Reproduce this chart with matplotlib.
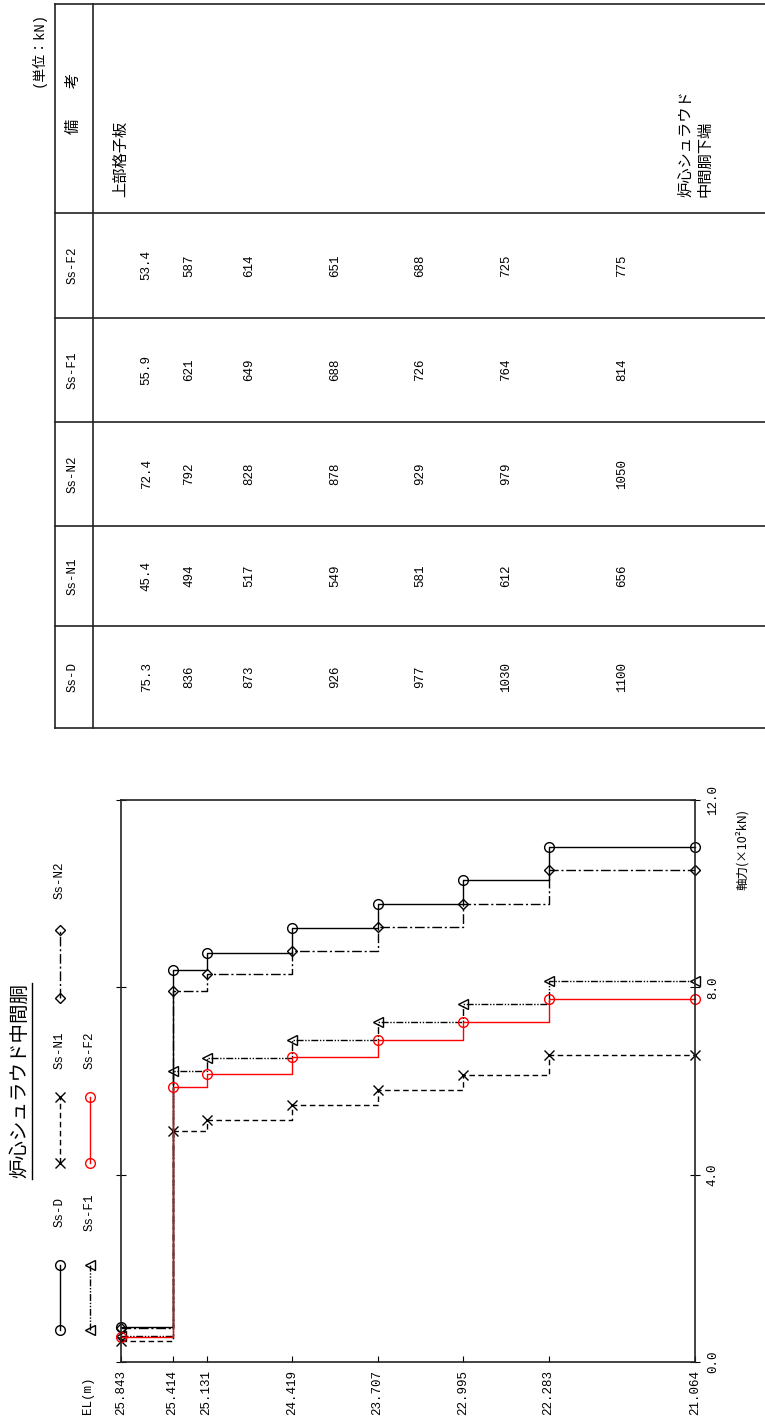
import matplotlib
matplotlib.use('Agg')
import matplotlib.pyplot as plt
from matplotlib.lines import Line2D
from matplotlib.transforms import blended_transform_factory

plt.rcParams['font.family'] = ['Liberation Mono', 'Noto Sans CJK JP']
JP = ['Noto Sans CJK JP', 'Liberation Mono']

# elevation boundaries (m) and axial force per section (kN)
el = [25.843, 25.414, 25.131, 24.419, 23.707, 22.995, 22.283, 21.064]
el_labels = ['25.843', '25.414', '25.131', '24.419', '23.707', '22.995', '22.283', '21.064']
ss_d = [75.3, 836, 873, 926, 977, 1030, 1100]
ss_n1 = [45.4, 494, 517, 549, 581, 612, 656]
ss_n2 = [72.4, 792, 828, 878, 929, 979, 1050]
ss_f1 = [55.9, 621, 649, 688, 726, 764, 814]
ss_f2 = [53.4, 587, 614, 651, 688, 725, 775]
y_ticks = [0, 4, 8, 12]
y_tick_labels = ['0.0', '4.0', '8.0', '12.0']
remarks = [(25.843, '上部格子板'), (21.064, '炉心シュラウド\n中間胴下端')]

series = {
    'Ss-D': (ss_d, dict(color='black', ls='-', marker='o', ms=7, mfc='none')),
    'Ss-N1': (ss_n1, dict(color='black', ls=(0, (4, 2.5)), marker='x', ms=7)),
    'Ss-N2': (ss_n2, dict(color='black', ls=(0, (7, 2, 1.5, 2)), marker='D', ms=5.5, mfc='none')),
    'Ss-F1': (ss_f1, dict(color='black', ls=(0, (5, 1.2, 1, 1.2, 1, 1.2)), marker='<', ms=6.5, mfc='none')),
    'Ss-F2': (ss_f2, dict(color='red', ls='-', marker='o', ms=7, mfc='none')),
}

W, H = 765, 1428
fx = lambda px: px / W
fy = lambda py: 1 - py / H

fig = plt.figure(figsize=(W / 100, H / 100), dpi=100)
ax = fig.add_axes([fx(121), fy(1362), fx(695) - fx(121), fy(800) - fy(1362)])

for name, (vals, st) in series.items():
    y = [v / 100 for v in vals]
    ax.plot(el, y + [y[-1]], drawstyle='steps-post', lw=1.0, clip_on=False, **st)

ax.set_xlim(el[0], el[-1])
ax.set_ylim(0, 12)
ax.set_xticks(el)
ax.set_xticklabels(el_labels, rotation=90, fontsize=9)
ax.set_yticks(y_ticks)
ax.set_yticklabels(y_tick_labels, rotation=90, fontsize=9, va='center')
ax.tick_params(axis='x', direction='in', length=4, width=0.8, pad=6)
ax.tick_params(axis='y', direction='inout', length=7, width=0.8, left=True, right=True,
               labelleft=False, labelright=True, pad=5)
for sp in ax.spines.values():
    sp.set_linewidth(1.2)
    sp.set_color('#222222')

fig.text(fx(88), fy(1376), 'EL(m)', rotation=90, ha='center', va='top', fontsize=9)
fig.text(fx(742), fy(850), '軸力(×10²kN)', rotation=90, ha='center', va='center', fontsize=9, family=JP)

# title with underline
title = fig.text(fx(20), fy(1081), '炉心シュラウド中間胴', rotation=90, ha='center', va='center',
                 fontsize=14, family=JP)
fig.canvas.draw()
bb = title.get_window_extent(fig.canvas.get_renderer())
fig.add_artist(Line2D([(bb.x1 + 1) / W] * 2, [bb.y0 / H, bb.y1 / H], transform=fig.transFigure,
                      color='black', lw=1.0))

# legend drawn by hand (rotated page)
leg_pos = {
    'Ss-D': (60, 1330, 1265, 1212),
    'Ss-N1': (60, 1163, 1097, 1050),
    'Ss-N2': (60, 998, 930, 880),
    'Ss-F1': (90, 1330, 1265, 1212),
    'Ss-F2': (90, 1163, 1097, 1050),
}
for name, (x, y1, y2, yl) in leg_pos.items():
    st = series[name][1]
    fig.add_artist(Line2D([fx(x)] * 2, [fy(y1), fy(y2)], transform=fig.transFigure, lw=1.0, **st))
    fig.text(fx(x), fy(yl), name, rotation=90, ha='center', va='center', fontsize=9)

# table
tr = blended_transform_factory(ax.transData, fig.transFigure)
rows_y = [4, 213, 318, 422, 526, 626, 728]
headers = ['備　　考', 'Ss-F2', 'Ss-F1', 'Ss-N2', 'Ss-N1', 'Ss-D']
for yy in rows_y:
    fig.add_artist(Line2D([fx(55), fx(765)], [fy(yy)] * 2, transform=fig.transFigure,
                          color='#222222', lw=1.2))
for xx in [55, 93]:
    fig.add_artist(Line2D([fx(xx)] * 2, [fy(4), fy(728)], transform=fig.transFigure,
                          color='#222222', lw=1.2))
for i, h in enumerate(headers):
    yc = (rows_y[i] + rows_y[i + 1]) / 2
    fig.text(fx(73), fy(yc - 5 if i == 0 else yc), h, rotation=90, ha='center', va='center',
             fontsize=9 if i else 11, family=JP if i == 0 else None)

for i, name in enumerate(headers[1:], start=1):
    vals = series[name][0]
    yc = (rows_y[i] + rows_y[i + 1]) / 2
    for k, v in enumerate(vals):
        xm = (el[k] + el[k + 1]) / 2
        s = f'{v:.1f}' if v < 100 else f'{v:.0f}'
        ax.text(xm, fy(yc), s, transform=tr, rotation=90, ha='center', va='center', fontsize=9)

for xe, txt in remarks:
    ax.text(xe, fy(197), txt, transform=tr, rotation=90, ha='center', va='bottom',
            fontsize=11, family=JP, multialignment='left')

fig.text(fx(38), fy(12), '(単位：kN)', rotation=90, ha='center', va='top', fontsize=10)

fig.savefig('out.png', dpi=100)
